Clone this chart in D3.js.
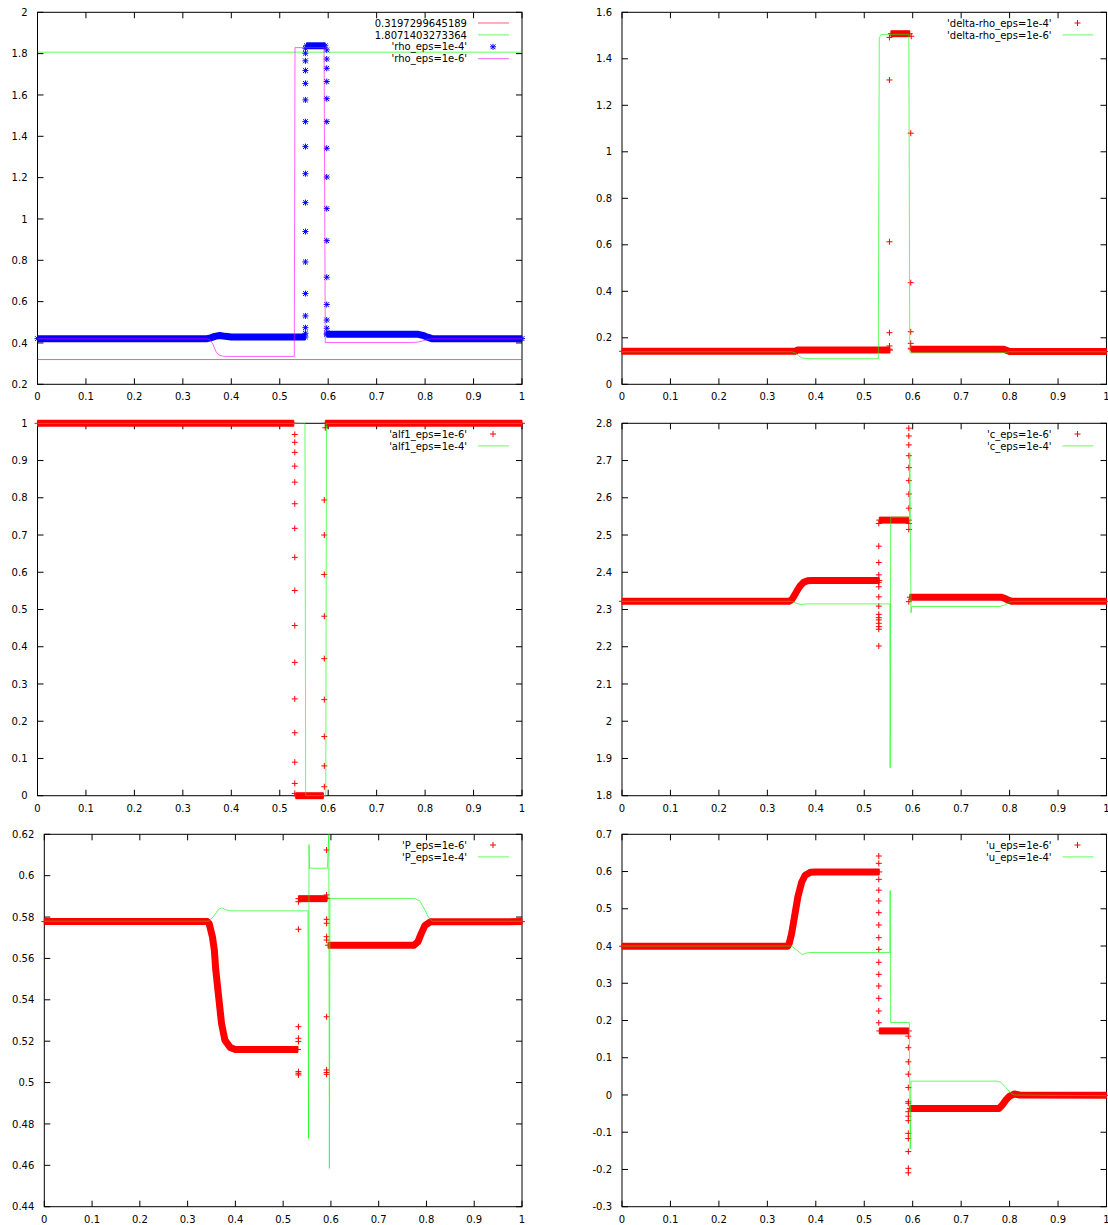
<!DOCTYPE html>
<html><head><meta charset="utf-8">
<script src="https://cdn.jsdelivr.net/npm/d3@7"></script>
<style>
body{margin:0;background:#fff}
text{font-family:"DejaVu Sans",sans-serif;font-size:10px;fill:#000}
</style>
</head><body>
<svg id="c" width="1108" height="1225"></svg>
<script>
// ---------- tick labels ----------
const xTicks = [0,0.1,0.2,0.3,0.4,0.5,0.6,0.7,0.8,0.9,1];
const rhoTicks = [0.2,0.4,0.6,0.8,1,1.2,1.4,1.6,1.8,2];
const drhoTicks = [0,0.2,0.4,0.6,0.8,1,1.2,1.4,1.6];
const alfTicks = [0,0.1,0.2,0.3,0.4,0.5,0.6,0.7,0.8,0.9,1];
const cTicks = [1.8,1.9,2,2.1,2.2,2.3,2.4,2.5,2.6,2.7,2.8];
const pTicks = [0.44,0.46,0.48,0.5,0.52,0.54,0.56,0.58,0.6,0.62];
const uTicks = [-0.3,-0.2,-0.1,0,0.1,0.2,0.3,0.4,0.5,0.6,0.7];

// ---------- panel 1 : rho ----------
const rhoLowLine = [[0,0.3197299645189],[1,0.3197299645189]];
const rhoHighLine = [[0,1.8071403273364],[1,1.8071403273364]];
const rho4BandA = [[0,0.421],[0.350,0.421],[0.358,0.425],[0.366,0.432],[0.376,0.436],[0.388,0.432],[0.40,0.429],[0.553,0.429]];
const rho4BandB = [[0.555,1.838],[0.594,1.838]];
const rho4BandC = [[0.597,0.442],[0.786,0.442],[0.795,0.437],[0.805,0.428],[0.814,0.421],[1,0.421]];
const rho4Pts = [
 [0.553,1.826],[0.553,1.802],[0.553,1.765],[0.553,1.718],[0.553,1.656],[0.553,1.576],[0.553,1.471],[0.553,1.350],
 [0.553,1.219],[0.553,1.079],[0.553,0.939],[0.553,0.792],[0.553,0.639],[0.553,0.531],[0.553,0.474],[0.553,0.447],
 [0.597,1.818],[0.597,1.774],[0.597,1.729],[0.597,1.665],[0.597,1.582],[0.597,1.471],[0.597,1.342],[0.597,1.203],
 [0.597,1.050],[0.597,0.895],[0.597,0.718],[0.597,0.586],[0.597,0.511],[0.597,0.471],[0.597,0.447]];
const rho6Line = [[0,0.42],[0.35,0.42],[0.356,0.415],[0.362,0.395],[0.368,0.36],[0.374,0.342],[0.382,0.336],[0.395,0.335],
 [0.530,0.335],[0.5315,1.829],[0.5915,1.829],[0.594,0.402],[0.77,0.402],[0.785,0.404],[0.795,0.41],[0.805,0.417],[0.815,0.42],[1,0.42]];

// ---------- panel 2 : delta-rho ----------
const dr4BandA = [[0,0.142],[0.358,0.142],[0.362,0.147],[0.553,0.147]];
const dr4BandB = [[0.555,1.508],[0.594,1.508]];
const dr4BandC = [[0.597,0.151],[0.788,0.151],[0.80,0.141],[1,0.141]];
const dr4Pts = [[0.552,1.492],[0.552,1.309],[0.552,0.613],[0.552,0.222],[0.552,0.165],[0.552,0.151],
 [0.597,1.497],[0.596,1.080],[0.596,0.437],[0.596,0.226],[0.596,0.176],[0.596,0.155]];
const dr6Line = [[0,0.14],[0.35,0.14],[0.358,0.135],[0.365,0.122],[0.372,0.114],[0.38,0.111],[0.39,0.11],[0.529,0.11],
 [0.531,1.49],[0.535,1.505],[0.592,1.505],[0.594,0.137],[0.596,0.135],[0.78,0.135],[0.79,0.137],[0.80,0.14],[1,0.14]];

// ---------- panel 3 : alf1 ----------
const alf6BandA = [[0,1],[0.529,1]];
const alf6BandB = [[0.533,0],[0.590,0]];
const alf6BandC = [[0.594,1],[1,1]];
const alf6Pts = [
 [0.531,0.970],[0.531,0.949],[0.531,0.922],[0.531,0.885],[0.531,0.842],[0.531,0.784],[0.531,0.718],[0.531,0.640],
 [0.531,0.551],[0.531,0.457],[0.531,0.358],[0.531,0.260],[0.531,0.169],[0.531,0.090],[0.531,0.033],[0.531,0.006],
 [0.594,0.988],[0.592,0.794],[0.592,0.700],[0.592,0.594],[0.592,0.482],[0.592,0.368],[0.592,0.258],[0.592,0.159],[0.592,0.080],[0.592,0.024]];
const alf4Line = [[0,1],[0.552,1],[0.5535,0],[0.595,0],[0.5965,1],[1,1]];

// ---------- panel 4 : c ----------
const c6BandA = [[0,2.322],[0.345,2.322],[0.350,2.326],[0.356,2.338],[0.362,2.352],[0.368,2.364],[0.375,2.373],[0.383,2.377],[0.392,2.378],[0.531,2.378]];
const c6BandB = [[0.531,2.540],[0.592,2.540]];
const c6BandC = [[0.594,2.333],[0.782,2.333],[0.790,2.330],[0.797,2.325],[0.805,2.322],[1,2.322]];
const c6Pts = [
 [0.530,2.531],[0.530,2.470],[0.530,2.426],[0.530,2.393],[0.530,2.373],[0.530,2.361],[0.530,2.334],[0.530,2.309],
 [0.530,2.287],[0.530,2.278],[0.530,2.272],[0.530,2.263],[0.530,2.254],[0.530,2.247],[0.530,2.202],
 [0.592,2.787],[0.592,2.766],[0.592,2.742],[0.592,2.713],[0.592,2.681],[0.592,2.646],[0.592,2.610],[0.592,2.572],
 [0.592,2.531],[0.592,2.515],[0.592,2.321]];
const c4Line = [[0,2.322],[0.35,2.322],[0.36,2.317],[0.37,2.313],[0.38,2.315],[0.553,2.315],[0.5535,1.875],[0.5545,2.548],
 [0.5935,2.548],[0.594,2.721],[0.5965,2.291],[0.598,2.308],[0.78,2.308],[0.79,2.312],[0.80,2.32],[0.81,2.322],[1,2.322]];

// ---------- panel 5 : P ----------
const p6BandA = [[0,0.5778],[0.341,0.5778],[0.345,0.5769],[0.352,0.5704],[0.356,0.564],[0.359,0.5543],[0.365,0.5414],
 [0.371,0.5286],[0.378,0.5205],[0.389,0.517],[0.40,0.516],[0.531,0.516]];
const p6BandB = [[0.532,0.5889],[0.592,0.5889]];
const p6BandC = [[0.594,0.5664],[0.774,0.5664],[0.782,0.568],[0.789,0.572],[0.797,0.576],[0.808,0.5777],[1,0.5778]];
const p6Pts = [[0.532,0.5874],[0.532,0.5741],[0.532,0.527],[0.532,0.5214],[0.532,0.5198],[0.532,0.5053],[0.532,0.5045],[0.532,0.5037],
 [0.591,0.6124],[0.591,0.5907],[0.591,0.5891],[0.591,0.5789],[0.591,0.577],[0.591,0.5705],[0.591,0.5689],[0.591,0.5318],
 [0.591,0.5061],[0.591,0.5049],[0.591,0.504]];
const p4Line = [[0,0.578],[0.345,0.578],[0.355,0.5805],[0.365,0.5838],[0.372,0.5845],[0.38,0.5835],[0.39,0.583],[0.552,0.583],
 [0.5532,0.473],[0.5542,0.615],[0.555,0.6036],[0.5925,0.6036],[0.5955,0.62],[0.5968,0.4585],[0.598,0.589],[0.775,0.589],
 [0.786,0.5878],[0.797,0.5833],[0.804,0.58],[0.812,0.578],[1,0.578]];

// ---------- panel 6 : u ----------
const u6BandA = [[0,0.3995],[0.342,0.3995],[0.345,0.4066],[0.350,0.433],[0.356,0.478],[0.363,0.532],[0.371,0.572],
 [0.378,0.59],[0.389,0.598],[0.40,0.599],[0.531,0.599]];
const u6BandB = [[0.531,0.172],[0.592,0.172]];
const u6BandC = [[0.594,-0.036],[0.778,-0.036],[0.785,-0.027],[0.792,-0.014],[0.80,-0.003],[0.81,0.0027],[0.82,0.0],[1,-0.001]];
const u6Pts = [[0.530,0.6417],[0.530,0.622],[0.530,0.579],[0.530,0.550],[0.530,0.521],[0.530,0.4895],[0.530,0.4565],[0.530,0.4224],
 [0.530,0.391],[0.530,0.3563],[0.530,0.324],[0.530,0.2926],[0.530,0.2596],[0.530,0.2255],[0.530,0.194],
 [0.591,0.158],[0.591,0.127],[0.591,0.089],[0.591,0.056],[0.591,0.020],[0.591,-0.018],[0.591,-0.0223],[0.591,-0.0449],
 [0.591,-0.057],[0.591,-0.069],[0.591,-0.103],[0.591,-0.117],[0.591,-0.152],[0.591,-0.197],[0.591,-0.209]];
const u4Line = [[0,0.4],[0.35,0.4],[0.36,0.39],[0.372,0.377],[0.38,0.381],[0.39,0.3825],[0.553,0.3825],[0.5535,0.549],
 [0.5545,0.1946],[0.593,0.1946],[0.595,-0.145],[0.5965,0.0372],[0.774,0.0372],[0.782,0.034],[0.792,0.02],[0.803,0.005],[0.81,0.0],[1,-0.002]];

// ---------- layout / styling ----------
const RED='#ff0000', GREEN='#00ff00', BLUE='#0000ff', MAGENTA='#ff00ff';
const panels = [
 {box:[37.5,522,12.3,384.3], yDomain:[0.2,2], yTicks:rhoTicks, series:[
   {label:'0.3197299645189', kind:'line', color:RED, data:rhoLowLine},
   {label:'1.8071403273364', kind:'line', color:GREEN, data:rhoHighLine},
   {label:"'rho_eps=1e-4'", kind:'points', sym:'star', color:BLUE, bands:[rho4BandA,rho4BandB,rho4BandC], pts:rho4Pts},
   {label:"'rho_eps=1e-6'", kind:'line', color:MAGENTA, data:rho6Line}]},
 {box:[622,1106.5,12.3,384.3], yDomain:[0,1.6], yTicks:drhoTicks, series:[
   {label:"'delta-rho_eps=1e-4'", kind:'points', sym:'plus', color:RED, bands:[dr4BandA,dr4BandB,dr4BandC], pts:dr4Pts},
   {label:"'delta-rho_eps=1e-6'", kind:'line', color:GREEN, data:dr6Line}]},
 {box:[37.5,522,423.3,795.7], yDomain:[0,1], yTicks:alfTicks, series:[
   {label:"'alf1_eps=1e-6'", kind:'points', sym:'plus', color:RED, bands:[alf6BandA,alf6BandB,alf6BandC], pts:alf6Pts},
   {label:"'alf1_eps=1e-4'", kind:'line', color:GREEN, data:alf4Line}]},
 {box:[622,1106.5,423.3,795.7], yDomain:[1.8,2.8], yTicks:cTicks, series:[
   {label:"'c_eps=1e-6'", kind:'points', sym:'plus', color:RED, bands:[c6BandA,c6BandB,c6BandC], pts:c6Pts},
   {label:"'c_eps=1e-4'", kind:'line', color:GREEN, data:c4Line}]},
 {box:[44.3,522,834.3,1206.7], yDomain:[0.44,0.62], yTicks:pTicks, series:[
   {label:"'P_eps=1e-6'", kind:'points', sym:'plus', color:RED, bands:[p6BandA,p6BandB,p6BandC], pts:p6Pts},
   {label:"'P_eps=1e-4'", kind:'line', color:GREEN, data:p4Line}]},
 {box:[622,1106.5,834.3,1206.7], yDomain:[-0.3,0.7], yTicks:uTicks, series:[
   {label:"'u_eps=1e-6'", kind:'points', sym:'plus', color:RED, bands:[u6BandA,u6BandB,u6BandC], pts:u6Pts},
   {label:"'u_eps=1e-4'", kind:'line', color:GREEN, data:u4Line}]}
];

const SYM = {
  plus: 'M-3,0H3M0,-3V3',
  star: 'M-3,0H3M0,-3V3M-2.4,-2.4L2.4,2.4M-2.4,2.4L2.4,-2.4'
};
const svg = d3.select('#c');
svg.append('rect').attr('width',1108).attr('height',1225).attr('fill','#fff');
const TL = 6;

panels.forEach((p,pi)=>{
  const [x0,x1,y0,y1] = p.box;
  const x = d3.scaleLinear().domain([0,1]).range([x0,x1]);
  const y = d3.scaleLinear().domain(p.yDomain).range([y1,y0]);
  const g = svg.append('g');
  const clipId = 'clip'+pi;
  svg.append('clipPath').attr('id',clipId).append('rect')
    .attr('x',x0).attr('y',y0-0.5).attr('width',x1-x0).attr('height',y1-y0+1);

  // border
  g.append('rect').attr('x',x0).attr('y',y0).attr('width',x1-x0).attr('height',y1-y0)
    .attr('fill','none').attr('stroke','#000').attr('stroke-width',1);
  // ticks
  const tg = g.append('g').attr('stroke','#000').attr('stroke-width',1);
  xTicks.forEach(t=>{
    const px = x(t);
    tg.append('line').attr('x1',px).attr('x2',px).attr('y1',y1).attr('y2',y1-TL);
    tg.append('line').attr('x1',px).attr('x2',px).attr('y1',y0).attr('y2',y0+TL);
    g.append('text').attr('x',px).attr('y',y1+16).attr('text-anchor','middle').text(String(t));
  });
  p.yTicks.forEach(t=>{
    const py = y(t);
    tg.append('line').attr('x1',x0).attr('x2',x0+TL).attr('y1',py).attr('y2',py);
    tg.append('line').attr('x1',x1).attr('x2',x1-TL).attr('y1',py).attr('y2',py);
    g.append('text').attr('x',x0-10).attr('y',py).attr('dy','0.36em').attr('text-anchor','end').text(String(t));
  });

  const line = d3.line().x(d=>x(d[0])).y(d=>y(d[1]));
  p.series.forEach((s,si)=>{
    const ly = y0 + 10.7 + si*11.9;
    g.append('text').attr('x',x1-55).attr('y',ly).attr('dy','0.36em').attr('text-anchor','end').text(s.label);
    if(s.kind==='line'){
      g.append('path').attr('d',line(s.data)).attr('fill','none')
        .attr('stroke',s.color).attr('stroke-width',1).attr('stroke-opacity',0.62)
        .attr('clip-path','url(#'+clipId+')');
      g.append('line').attr('x1',x1-44).attr('x2',x1-13).attr('y1',ly).attr('y2',ly)
        .attr('stroke',s.color).attr('stroke-width',1).attr('stroke-opacity',0.62);
    } else {
      const sg = g.append('g');
      s.bands.forEach(b=>{
        sg.append('path').attr('d',line(b)).attr('fill','none').attr('stroke',s.color)
          .attr('stroke-width',7).attr('stroke-linejoin','round').attr('stroke-linecap','butt');
      });
      const allPts = s.bands.flat().concat(s.pts);
      sg.selectAll(null).data(allPts).enter().append('path')
        .attr('d',SYM[s.sym]).attr('transform',d=>`translate(${x(d[0])},${y(d[1])})`)
        .attr('fill','none').attr('stroke',s.color).attr('stroke-width',1);
      g.append('path').attr('d',SYM[s.sym]).attr('transform',`translate(${x1-29},${ly})`)
        .attr('fill','none').attr('stroke',s.color).attr('stroke-width',1);
    }
  });
});
</script>
</body></html>
